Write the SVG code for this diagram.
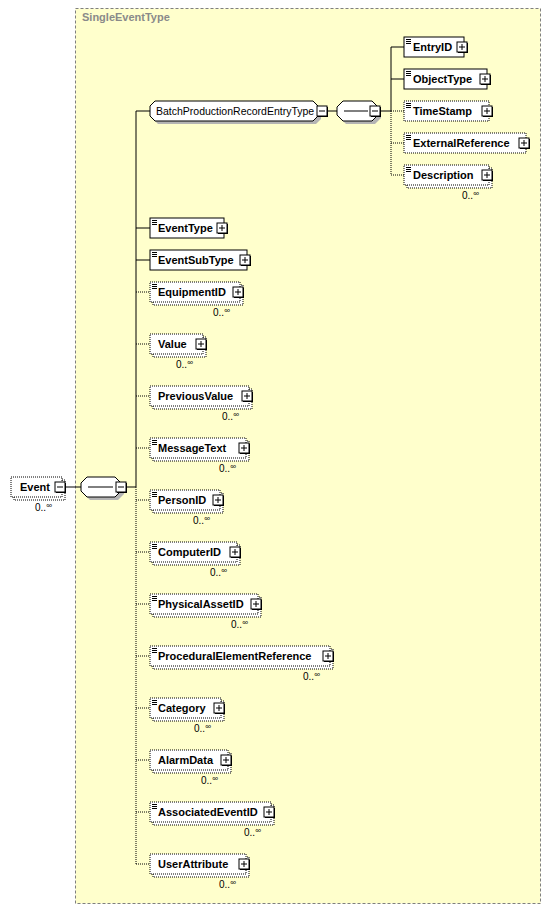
<svg xmlns="http://www.w3.org/2000/svg" width="550" height="908" viewBox="0 0 550 908">
<style>
.bg{fill:#ffffcc;stroke:#7f7f7f;stroke-width:1;stroke-dasharray:3,2}
.title{font-family:"Liberation Sans",Arial,sans-serif;font-size:11px;font-weight:bold;fill:#8a8a8a}
.req{fill:#ffffff;stroke:#000;stroke-width:1}
.opt{fill:#ffffff;stroke:#000;stroke-width:1;stroke-dasharray:1,1}
.ico{stroke:#000;stroke-width:1;fill:none}
.lbl{font-family:"Liberation Sans",Arial,sans-serif;font-size:11px;font-weight:bold;fill:#000}
.lbln{font-family:"Liberation Sans",Arial,sans-serif;font-size:10.5px;fill:#000}
.mult{font-family:"Liberation Sans",Arial,sans-serif;font-size:10px;fill:#000}
.inf{font-size:8px}
.pbsh{fill:#000}
.pb{fill:#fff;stroke:#000;stroke-width:1}
.pl{stroke:#000;stroke-width:1;fill:none}
.sh{fill:#b4b4b4}
.solid{stroke:#000;stroke-width:1;fill:none}
.dot{stroke:#000;stroke-width:1;fill:none;stroke-dasharray:1,1}
</style>
<rect class="bg" x="75.5" y="8.5" width="465" height="895"/>
<text class="title" x="82" y="21">SingleEventType</text>

<g id="connectors">
<path class="solid" d="M65,487H81M126,487H136M136,111V487M136,111H150M136,228H150M136,260H150"/>
<path class="dot" d="M136,487V864M136,292H150M136,344H150M136,396H150M136,448H150M136,500H150M136,552H150M136,604H150M136,656H150M136,708H150M136,760H150M136,812H150M136,864H150"/>
<path class="solid" d="M327,111H337M380,111H391M391,47V111M391,47H404M391,79H404"/>
<path class="dot" d="M391,111V175M391,111H404M391,143H404M391,175H404"/>
</g>

<g id="n-Event">
<rect class="opt" x="14" y="480" width="51" height="20"/>
<rect class="opt" x="11" y="477" width="51" height="20"/>
<text class="lbl" x="20" y="491">Event</text>
<rect class="pbsh" x="56" y="483" width="10" height="10"/>
<rect class="pb" x="55" y="482" width="10" height="10"/>
<path class="pl" d="M57,487h6"/>
<text class="mult" x="35" y="511">0..<tspan class="inf" dy="-3">∞</tspan></text>
</g>

<g id="n-seq1">
<path class="sh" d="M90,480H118L124,486V494L118,500H90L84,494V486Z"/>
<path class="req" d="M87,477H115L121,483V491L115,497H87L81,491V483Z"/>
<path class="pl" d="M88,487H113"/>
<rect class="pbsh" x="117" y="483" width="10" height="10"/>
<rect class="pb" x="116" y="482" width="10" height="10"/>
<path class="pl" d="M118,487h6"/>
</g>

<g id="n-BatchProductionRecordEntryType">
<path class="sh" d="M158,104H316L321,109V119L316,124H158L153,119V109Z"/>
<path class="req" d="M155,101H313L318,106V116L313,121H155L150,116V106Z"/>
<text class="lbln" x="156" y="115">BatchProductionRecordEntryType</text>
<rect class="pbsh" x="318" y="107" width="10" height="10"/>
<rect class="pb" x="317" y="106" width="10" height="10"/>
<path class="pl" d="M319,111h6"/>
</g>

<g id="n-seq2">
<path class="sh" d="M346,104H375L381,110V118L375,124H346L340,118V110Z"/>
<path class="req" d="M343,101H372L378,107V115L372,121H343L337,115V107Z"/>
<path class="pl" d="M344,111H368"/>
<rect class="pbsh" x="371" y="107" width="10" height="10"/>
<rect class="pb" x="370" y="106" width="10" height="10"/>
<path class="pl" d="M372,111h6"/>
</g>

<g id="n-EntryID">
<rect class="req" x="404" y="37" width="60" height="20"/>
<path class="ico" d="M406,39.5h5M406,41.5h5M406,43.5h5"/>
<text class="lbl" x="413" y="51">EntryID</text>
<rect class="pbsh" x="458" y="43" width="10" height="10"/>
<rect class="pb" x="457" y="42" width="10" height="10"/>
<path class="pl" d="M459,47h6M462,44v6"/>
</g>

<g id="n-ObjectType">
<rect class="req" x="404" y="69" width="83" height="20"/>
<path class="ico" d="M406,71.5h5M406,73.5h5M406,75.5h5"/>
<text class="lbl" x="413" y="83">ObjectType</text>
<rect class="pbsh" x="481" y="75" width="10" height="10"/>
<rect class="pb" x="480" y="74" width="10" height="10"/>
<path class="pl" d="M482,79h6M485,76v6"/>
</g>

<g id="n-TimeStamp">
<rect class="opt" x="404" y="101" width="85" height="20"/>
<path class="ico" d="M406,103.5h5M406,105.5h5M406,107.5h5"/>
<text class="lbl" x="413" y="115">TimeStamp</text>
<rect class="pbsh" x="483" y="107" width="10" height="10"/>
<rect class="pb" x="482" y="106" width="10" height="10"/>
<path class="pl" d="M484,111h6M487,108v6"/>
</g>

<g id="n-ExternalReference">
<rect class="opt" x="404" y="133" width="122" height="20"/>
<path class="ico" d="M406,135.5h5M406,137.5h5M406,139.5h5"/>
<text class="lbl" x="413" y="147">ExternalReference</text>
<rect class="pbsh" x="520" y="139" width="10" height="10"/>
<rect class="pb" x="519" y="138" width="10" height="10"/>
<path class="pl" d="M521,143h6M524,140v6"/>
</g>

<g id="n-Description">
<rect class="opt" x="407" y="168" width="85" height="20"/>
<rect class="opt" x="404" y="165" width="85" height="20"/>
<path class="ico" d="M406,167.5h5M406,169.5h5M406,171.5h5"/>
<text class="lbl" x="413" y="179">Description</text>
<rect class="pbsh" x="483" y="171" width="10" height="10"/>
<rect class="pb" x="482" y="170" width="10" height="10"/>
<path class="pl" d="M484,175h6M487,172v6"/>
<text class="mult" x="462" y="199">0..<tspan class="inf" dy="-3">∞</tspan></text>
</g>

<g id="n-EventType">
<rect class="req" x="150" y="218" width="74" height="20"/>
<path class="ico" d="M152,220.5h5M152,222.5h5M152,224.5h5"/>
<text class="lbl" x="158" y="232">EventType</text>
<rect class="pbsh" x="218" y="224" width="10" height="10"/>
<rect class="pb" x="217" y="223" width="10" height="10"/>
<path class="pl" d="M219,228h6M222,225v6"/>
</g>

<g id="n-EventSubType">
<rect class="req" x="150" y="250" width="97" height="20"/>
<path class="ico" d="M152,252.5h5M152,254.5h5M152,256.5h5"/>
<text class="lbl" x="158" y="264">EventSubType</text>
<rect class="pbsh" x="241" y="256" width="10" height="10"/>
<rect class="pb" x="240" y="255" width="10" height="10"/>
<path class="pl" d="M242,260h6M245,257v6"/>
</g>

<g id="n-EquipmentID">
<rect class="opt" x="153" y="285" width="90" height="20"/>
<rect class="opt" x="150" y="282" width="90" height="20"/>
<path class="ico" d="M152,284.5h5M152,286.5h5M152,288.5h5"/>
<text class="lbl" x="158" y="296">EquipmentID</text>
<rect class="pbsh" x="234" y="288" width="10" height="10"/>
<rect class="pb" x="233" y="287" width="10" height="10"/>
<path class="pl" d="M235,292h6M238,289v6"/>
<text class="mult" x="213" y="316">0..<tspan class="inf" dy="-3">∞</tspan></text>
</g>

<g id="n-Value">
<rect class="opt" x="153" y="337" width="53" height="20"/>
<rect class="opt" x="150" y="334" width="53" height="20"/>
<text class="lbl" x="158" y="348">Value</text>
<rect class="pbsh" x="197" y="340" width="10" height="10"/>
<rect class="pb" x="196" y="339" width="10" height="10"/>
<path class="pl" d="M198,344h6M201,341v6"/>
<text class="mult" x="176" y="368">0..<tspan class="inf" dy="-3">∞</tspan></text>
</g>

<g id="n-PreviousValue">
<rect class="opt" x="153" y="389" width="99" height="20"/>
<rect class="opt" x="150" y="386" width="99" height="20"/>
<text class="lbl" x="158" y="400">PreviousValue</text>
<rect class="pbsh" x="243" y="392" width="10" height="10"/>
<rect class="pb" x="242" y="391" width="10" height="10"/>
<path class="pl" d="M244,396h6M247,393v6"/>
<text class="mult" x="222" y="420">0..<tspan class="inf" dy="-3">∞</tspan></text>
</g>

<g id="n-MessageText">
<rect class="opt" x="153" y="441" width="96" height="20"/>
<rect class="opt" x="150" y="438" width="96" height="20"/>
<path class="ico" d="M152,440.5h5M152,442.5h5M152,444.5h5"/>
<text class="lbl" x="158" y="452">MessageText</text>
<rect class="pbsh" x="240" y="444" width="10" height="10"/>
<rect class="pb" x="239" y="443" width="10" height="10"/>
<path class="pl" d="M241,448h6M244,445v6"/>
<text class="mult" x="219" y="472">0..<tspan class="inf" dy="-3">∞</tspan></text>
</g>

<g id="n-PersonID">
<rect class="opt" x="153" y="493" width="70" height="20"/>
<rect class="opt" x="150" y="490" width="70" height="20"/>
<path class="ico" d="M152,492.5h5M152,494.5h5M152,496.5h5"/>
<text class="lbl" x="158" y="504">PersonID</text>
<rect class="pbsh" x="214" y="496" width="10" height="10"/>
<rect class="pb" x="213" y="495" width="10" height="10"/>
<path class="pl" d="M215,500h6M218,497v6"/>
<text class="mult" x="193" y="524">0..<tspan class="inf" dy="-3">∞</tspan></text>
</g>

<g id="n-ComputerID">
<rect class="opt" x="153" y="545" width="87" height="20"/>
<rect class="opt" x="150" y="542" width="87" height="20"/>
<path class="ico" d="M152,544.5h5M152,546.5h5M152,548.5h5"/>
<text class="lbl" x="158" y="556">ComputerID</text>
<rect class="pbsh" x="231" y="548" width="10" height="10"/>
<rect class="pb" x="230" y="547" width="10" height="10"/>
<path class="pl" d="M232,552h6M235,549v6"/>
<text class="mult" x="210" y="576">0..<tspan class="inf" dy="-3">∞</tspan></text>
</g>

<g id="n-PhysicalAssetID">
<rect class="opt" x="153" y="597" width="108" height="20"/>
<rect class="opt" x="150" y="594" width="108" height="20"/>
<path class="ico" d="M152,596.5h5M152,598.5h5M152,600.5h5"/>
<text class="lbl" x="158" y="608">PhysicalAssetID</text>
<rect class="pbsh" x="252" y="600" width="10" height="10"/>
<rect class="pb" x="251" y="599" width="10" height="10"/>
<path class="pl" d="M253,604h6M256,601v6"/>
<text class="mult" x="231" y="628">0..<tspan class="inf" dy="-3">∞</tspan></text>
</g>

<g id="n-ProceduralElementReference">
<rect class="opt" x="153" y="649" width="180" height="20"/>
<rect class="opt" x="150" y="646" width="180" height="20"/>
<path class="ico" d="M152,648.5h5M152,650.5h5M152,652.5h5"/>
<text class="lbl" x="158" y="660">ProceduralElementReference</text>
<rect class="pbsh" x="324" y="652" width="10" height="10"/>
<rect class="pb" x="323" y="651" width="10" height="10"/>
<path class="pl" d="M325,656h6M328,653v6"/>
<text class="mult" x="303" y="680">0..<tspan class="inf" dy="-3">∞</tspan></text>
</g>

<g id="n-Category">
<rect class="opt" x="153" y="701" width="71" height="20"/>
<rect class="opt" x="150" y="698" width="71" height="20"/>
<path class="ico" d="M152,700.5h5M152,702.5h5M152,704.5h5"/>
<text class="lbl" x="158" y="712">Category</text>
<rect class="pbsh" x="215" y="704" width="10" height="10"/>
<rect class="pb" x="214" y="703" width="10" height="10"/>
<path class="pl" d="M216,708h6M219,705v6"/>
<text class="mult" x="194" y="732">0..<tspan class="inf" dy="-3">∞</tspan></text>
</g>

<g id="n-AlarmData">
<rect class="opt" x="153" y="753" width="78" height="20"/>
<rect class="opt" x="150" y="750" width="78" height="20"/>
<text class="lbl" x="158" y="764">AlarmData</text>
<rect class="pbsh" x="222" y="756" width="10" height="10"/>
<rect class="pb" x="221" y="755" width="10" height="10"/>
<path class="pl" d="M223,760h6M226,757v6"/>
<text class="mult" x="201" y="784">0..<tspan class="inf" dy="-3">∞</tspan></text>
</g>

<g id="n-AssociatedEventID">
<rect class="opt" x="153" y="805" width="121" height="20"/>
<rect class="opt" x="150" y="802" width="121" height="20"/>
<path class="ico" d="M152,804.5h5M152,806.5h5M152,808.5h5"/>
<text class="lbl" x="158" y="816">AssociatedEventID</text>
<rect class="pbsh" x="265" y="808" width="10" height="10"/>
<rect class="pb" x="264" y="807" width="10" height="10"/>
<path class="pl" d="M266,812h6M269,809v6"/>
<text class="mult" x="244" y="836">0..<tspan class="inf" dy="-3">∞</tspan></text>
</g>

<g id="n-UserAttribute">
<rect class="opt" x="153" y="857" width="96" height="20"/>
<rect class="opt" x="150" y="854" width="96" height="20"/>
<text class="lbl" x="158" y="868">UserAttribute</text>
<rect class="pbsh" x="240" y="860" width="10" height="10"/>
<rect class="pb" x="239" y="859" width="10" height="10"/>
<path class="pl" d="M241,864h6M244,861v6"/>
<text class="mult" x="219" y="888">0..<tspan class="inf" dy="-3">∞</tspan></text>
</g>
</svg>
